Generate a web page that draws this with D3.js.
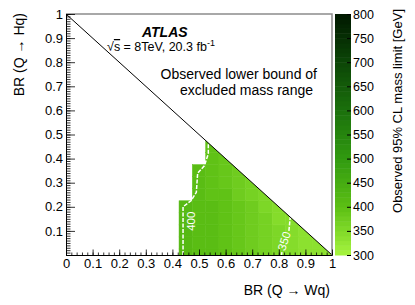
<!DOCTYPE html>
<html>
<head>
<meta charset="utf-8">
<script src="https://cdn.jsdelivr.net/npm/d3@7"></script>
<style>
  body { margin: 0; background: #fff; }
  text { font-family: "Liberation Sans", Arial, sans-serif; }
</style>
</head>
<body>
<div id="wrapper"></div>
<script>
// grid of the scan: BR(Q -> Wq) columns, BR(Q -> Hq) rows
const brW = [0.45, 0.5, 0.55, 0.6, 0.65, 0.7, 0.75, 0.8, 0.85, 0.9, 0.95, 1.0]
const brH = [0, 0.05, 0.1, 0.15, 0.2, 0.25, 0.3, 0.35, 0.4, 0.45]

// observed lower mass limit [GeV], one row per brH value, null = not excluded
const massLimit = [
  [412, 406, 400, 393, 385, 377, 367, 356, 346, 339, 334, 330],
  [413, 407, 401, 394, 386, 377, 367, 356, 345, 337, 332, null],
  [414, 408, 402, 394, 386, 376, 365, 353, 343, 336, null, null],
  [414, 408, 401, 393, 384, 373, 361, 349, 340, null, null, null],
  [415, 408, 400, 392, 382, 370, 357, 346, null, null, null, null],
  [null, 407, 399, 390, 379, 366, 354, null, null, null, null, null],
  [null, 406, 397, 387, 375, 362, null, null, null, null, null, null],
  [null, 405, 395, 384, 371, null, null, null, null, null, null, null],
  [null, null, 394, 382, null, null, null, null, null, null, null, null],
  [null, null, 392, null, null, null, null, null, null, null, null, null],
]

// contour lines [brW, brH]
const contour400 = [[0.44, 0], [0.44, 0.2], [0.47, 0.225], [0.49, 0.26], [0.495, 0.34],
  [0.52, 0.37], [0.535, 0.42], [0.535, 0.465]]
const contour350 = [[[0.81, 0], [0.812, 0.012]], [[0.838, 0.1], [0.843, 0.157]]]

const axisTicks = [0, 0.1, 0.2, 0.3, 0.4, 0.5, 0.6, 0.7, 0.8, 0.9, 1]
const zTicks = [300, 350, 400, 450, 500, 550, 600, 650, 700, 750, 800]

const dimensions = {
  width: 415,
  height: 305,
  margin: { top: 14, right: 83, bottom: 50, left: 66 },
}
dimensions.boundedWidth = dimensions.width - dimensions.margin.left - dimensions.margin.right
dimensions.boundedHeight = dimensions.height - dimensions.margin.top - dimensions.margin.bottom

const svg = d3.select("#wrapper")
  .append("svg")
    .attr("width", dimensions.width)
    .attr("height", dimensions.height)

const bounds = svg.append("g")
  .attr("transform", `translate(${dimensions.margin.left},${dimensions.margin.top})`)

const xScale = d3.scaleLinear().domain([0, 1]).range([0, dimensions.boundedWidth])
const yScale = d3.scaleLinear().domain([0, 1]).range([dimensions.boundedHeight, 0])

// colour palette, light green (300) -> black (800), in 10 GeV bands
const colorScale = d3.scaleLinear()
  .domain([300, 400, 500, 600, 700, 800])
  .range(["#a6f43e", "#5cbf14", "#319a10", "#1b700c", "#0c4607", "#001800"])
const bandColor = v => colorScale(Math.floor(v / 10) * 10 + 5)

// clip to the physical triangle BR(W)+BR(H) <= 1
svg.append("defs").append("clipPath").attr("id", "tri")
  .append("path")
    .attr("d", `M${xScale(0)},${yScale(0)}L${xScale(1)},${yScale(0)}L${xScale(0)},${yScale(1)}Z`)

const cells = []
brH.forEach((h, i) => brW.forEach((w, j) => {
  const v = massLimit[i][j]
  if (v != null) cells.push({ w, h, v })
}))

const half = 0.025
bounds.append("g").attr("clip-path", "url(#tri)")
  .selectAll("rect").data(cells).join("rect")
    .attr("x", d => xScale(Math.max(d.w - half, 0)))
    .attr("width", d => xScale(Math.min(d.w + half, 1)) - xScale(Math.max(d.w - half, 0)))
    .attr("y", d => yScale(Math.min(d.h + half, 1)))
    .attr("height", d => yScale(Math.max(d.h - half, 0)) - yScale(Math.min(d.h + half, 1)))
    .attr("fill", d => bandColor(d.v))
    .attr("stroke", d => bandColor(d.v))
    .attr("stroke-width", 0.5)

// contours
const line = d3.line().x(d => xScale(d[0])).y(d => yScale(d[1]))
bounds.append("path")
  .attr("d", line(contour400))
  .attr("fill", "none").attr("stroke", "#fff").attr("stroke-width", 1.5)
  .attr("stroke-dasharray", "4,1.5")
contour350.forEach(seg => bounds.append("path")
  .attr("d", line(seg))
  .attr("fill", "none").attr("stroke", "#fff").attr("stroke-width", 1.5)
  .attr("stroke-dasharray", "4,1.5"))

bounds.append("text")
  .attr("transform", `translate(${xScale(0.47)},${yScale(0.14)}) rotate(-90)`)
  .attr("text-anchor", "middle").attr("dy", "0.35em")
  .attr("fill", "#fff").attr("font-size", 11.5)
  .text("400")
bounds.append("text")
  .attr("transform", `translate(${xScale(0.82)},${yScale(0.058)}) rotate(-72)`)
  .attr("text-anchor", "middle").attr("dy", "0.35em")
  .attr("fill", "#fff").attr("font-size", 11.5)
  .text("350")

// diagonal
bounds.append("path")
  .attr("d", line([[0, 1], [1, 0]]))
  .attr("stroke", "#000").attr("stroke-width", 1)

// frame (top/right grey)
bounds.append("path")
  .attr("d", `M${xScale(0)},${yScale(1)}H${xScale(1)}V${yScale(0)}`)
  .attr("fill", "none").attr("stroke", "#8c8c8c").attr("stroke-width", 1.5)

// axes
const minorX = d3.range(0, 101, 2).map(d => d / 100)
const minorY = d3.range(0, 101, 1).map(d => d / 100)

const xAxis = bounds.append("g").attr("transform", `translate(0,${dimensions.boundedHeight})`)
xAxis.call(d3.axisBottom(xScale).tickValues(minorX).tickSizeInner(-2.5).tickSizeOuter(0).tickFormat(""))
xAxis.call(g => g.append("g").call(d3.axisBottom(xScale).tickValues(axisTicks)
  .tickSizeInner(-5.5).tickSizeOuter(0).tickPadding(4).tickFormat(d3.format("~g"))))

const yAxis = bounds.append("g")
yAxis.call(d3.axisLeft(yScale).tickValues(minorY).tickSizeInner(-4.5).tickSizeOuter(0).tickFormat(""))
yAxis.call(g => g.append("g").call(d3.axisLeft(yScale).tickValues(axisTicks.slice(1))
  .tickSizeInner(-9).tickSizeOuter(0).tickPadding(3).tickFormat(d3.format("~g"))))

bounds.selectAll(".tick text").attr("font-size", 13).attr("fill", "#000")
  .style("font-family", '"Liberation Sans", Arial, sans-serif')
bounds.selectAll(".domain").attr("stroke", "#000")
bounds.selectAll(".tick line").attr("stroke", "#000").attr("stroke-width", 0.8)

// axis titles
svg.append("text")
  .attr("x", 330).attr("y", 295).attr("text-anchor", "end").attr("font-size", 14)
  .text("BR (Q \u2192 Wq)")
svg.append("text")
  .attr("transform", "translate(24,13) rotate(-90)").attr("text-anchor", "end").attr("font-size", 14)
  .text("BR (Q \u2192 Hq)")

// labels inside plot
svg.append("text")
  .attr("x", 142).attr("y", 37).attr("font-size", 14)
  .attr("font-weight", "bold").attr("font-style", "italic")
  .text("ATLAS")
const lumi = svg.append("text").attr("x", 107).attr("y", 51).attr("font-size", 12.5)
lumi.append("tspan").text("\u221A")
lumi.append("tspan").style("text-decoration", "overline").text("s")
lumi.append("tspan").text(" = 8TeV, 20.3 fb")
lumi.append("tspan").attr("dy", -5).attr("font-size", 9).text("-1")

svg.append("text")
  .attr("x", 317).attr("y", 79).attr("text-anchor", "end").attr("font-size", 14)
  .text("Observed lower bound of")
svg.append("text")
  .attr("x", 313).attr("y", 95).attr("text-anchor", "end").attr("font-size", 14)
  .text("excluded mass range")

// colour bar
const zScale = d3.scaleLinear().domain([300, 800]).range([dimensions.margin.top + dimensions.boundedHeight, dimensions.margin.top])
const barX = 335, barW = 16
const bands = d3.range(300, 800, 10)
const colorBar = svg.append("g")
colorBar.selectAll("rect").data(bands).join("rect")
  .attr("x", barX).attr("width", barW)
  .attr("y", d => zScale(d + 10)).attr("height", d => zScale(d) - zScale(d + 10) + 0.5)
  .attr("fill", d => colorScale(d + 5))

const zAxis = svg.append("g").attr("transform", `translate(${barX + barW},0)`)
  .call(d3.axisRight(zScale).tickValues(zTicks).tickSizeInner(-4).tickSizeOuter(0).tickPadding(2).tickFormat(d3.format("d")))
zAxis.select(".domain").remove()
zAxis.selectAll(".tick line").attr("stroke", "#000")
zAxis.selectAll(".tick text").attr("font-size", 12.5).attr("fill", "#000")
  .style("font-family", '"Liberation Sans", Arial, sans-serif')

svg.append("text")
  .attr("transform", "translate(402,9) rotate(-90)").attr("text-anchor", "end").attr("font-size", 13)
  .text("Observed 95% CL mass limit [GeV]")
</script>
</body>
</html>
